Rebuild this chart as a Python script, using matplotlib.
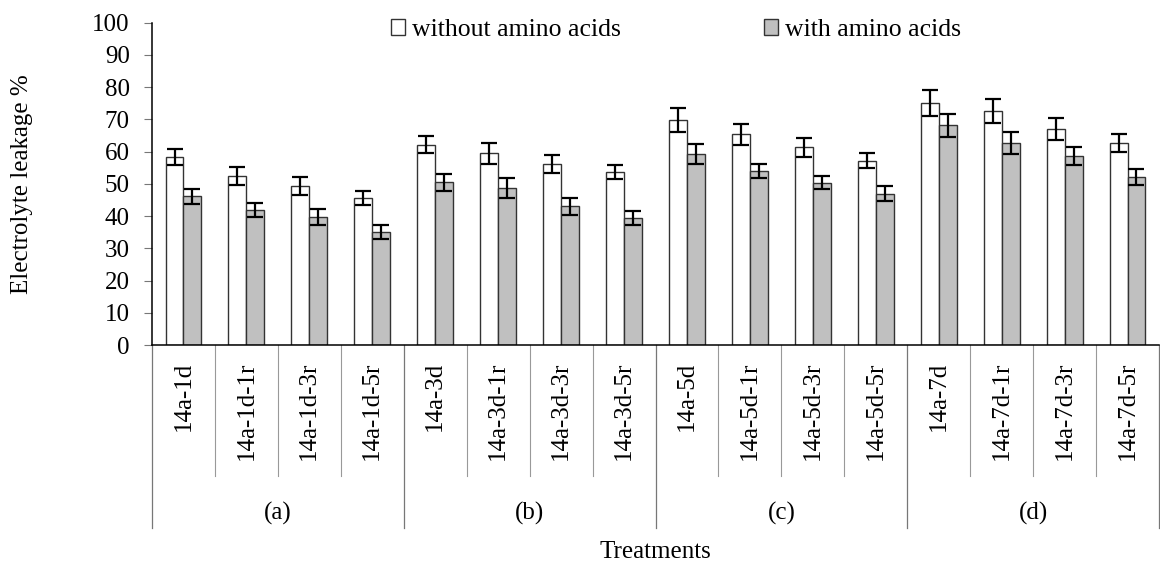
import matplotlib
matplotlib.use("Agg")
import matplotlib.pyplot as plt
import numpy as np

categories = ["14a-1d", "14a-1d-1r", "14a-1d-3r", "14a-1d-5r",
              "14a-3d", "14a-3d-1r", "14a-3d-3r", "14a-3d-5r",
              "14a-5d", "14a-5d-1r", "14a-5d-3r", "14a-5d-5r",
              "14a-7d", "14a-7d-1r", "14a-7d-3r", "14a-7d-5r"]
groups = ["(a)", "(b)", "(c)", "(d)"]
without_aa = [58.2, 52.4, 49.4, 45.5, 62.2, 59.5, 56.2, 53.7,
              69.8, 65.4, 61.3, 57.2, 75.1, 72.6, 67.1, 62.7]
without_err = [2.5, 2.7, 2.8, 2.2, 2.7, 3.2, 2.8, 2.2,
               3.6, 3.2, 2.9, 2.4, 4.0, 3.7, 3.4, 2.9]
with_aa = [46.2, 41.9, 39.7, 35.0, 50.5, 48.7, 43.0, 39.4,
           59.4, 54.0, 50.3, 47.0, 68.2, 62.7, 58.6, 52.0]
with_err = [2.3, 2.3, 2.6, 2.1, 2.6, 3.1, 2.7, 2.1,
            3.1, 2.1, 2.0, 2.2, 3.6, 3.5, 2.9, 2.5]
yticks = list(range(0, 101, 10))

plt.rcParams['font.family'] = ['Liberation Serif', 'DejaVu Serif']
FS = 18
LFS = 18.5

fig = plt.figure(figsize=(11.6, 5.68), dpi=100)
ax = fig.add_axes([152/1160, 1-345/568, 1007/1160, (345-22.7)/568])

n = len(categories)
x = np.arange(n) + 0.5
w = 0.285
b1 = ax.bar(x - w/2, without_aa, w, color='white', edgecolor='#333333', lw=1.0,
            label='without amino acids', zorder=2)
b2 = ax.bar(x + w/2, with_aa, w, color='#c0c0c0', edgecolor='#333333', lw=1.0,
            label='with amino acids', zorder=2)
ax.errorbar(x - w/2, without_aa, yerr=without_err, fmt='none', ecolor='black',
            elinewidth=1.6, capsize=6, capthick=1.6, zorder=3)
ax.errorbar(x + w/2, with_aa, yerr=with_err, fmt='none', ecolor='black',
            elinewidth=1.6, capsize=6, capthick=1.6, zorder=3)

ax.set_xlim(0, n)
ax.set_ylim(0, 100)
ax.set_yticks(yticks)
ax.set_yticklabels([str(t) for t in yticks], fontsize=FS)
ax.tick_params(axis='y', length=6, color='#777777', pad=10)
ax.set_xticks([])
for s in ['top', 'right']:
    ax.spines[s].set_visible(False)
ax.spines['left'].set_color('black')
ax.spines['bottom'].set_color('black')
ax.spines['left'].set_linewidth(1.1)
ax.spines['bottom'].set_linewidth(1.1)

ah = 345 - 22.7
trans = ax.get_xaxis_transform()
for i, c in enumerate(categories):
    ax.text(x[i], -17/ah, c, rotation=90, ha='center', va='top', fontsize=FS,
            transform=trans, clip_on=False)
for k in range(n + 1):
    if k % 4 == 0:
        ax.plot([k, k], [0, -183/ah], color='#777777', lw=0.9, transform=trans,
                clip_on=False)
    else:
        ax.plot([k, k], [0, -131/ah], color='#999999', lw=0.8, transform=trans,
                clip_on=False)
for g, name in enumerate(groups):
    ax.text(4*g + 2, -(513-345)/ah, name, ha='center', va='center', fontsize=FS,
            transform=trans, clip_on=False)

fig.text(655/1160, 1-552/568, 'Treatments', ha='center', va='center', fontsize=FS)
fig.text(22/1160, 1-184/568, 'Electrolyte leakage %', ha='center', va='center',
         rotation=90, fontsize=FS)

ax.legend(handles=[b1, b2], loc='center left', bbox_to_anchor=(391/1160, 1-30/568),
          bbox_transform=fig.transFigure, ncol=2, frameon=False, fontsize=LFS,
          handlelength=0.55, handleheight=0.55, handletextpad=0.25,
          columnspacing=5.6, borderpad=0, borderaxespad=0)

fig.savefig('out.png', dpi=100)
